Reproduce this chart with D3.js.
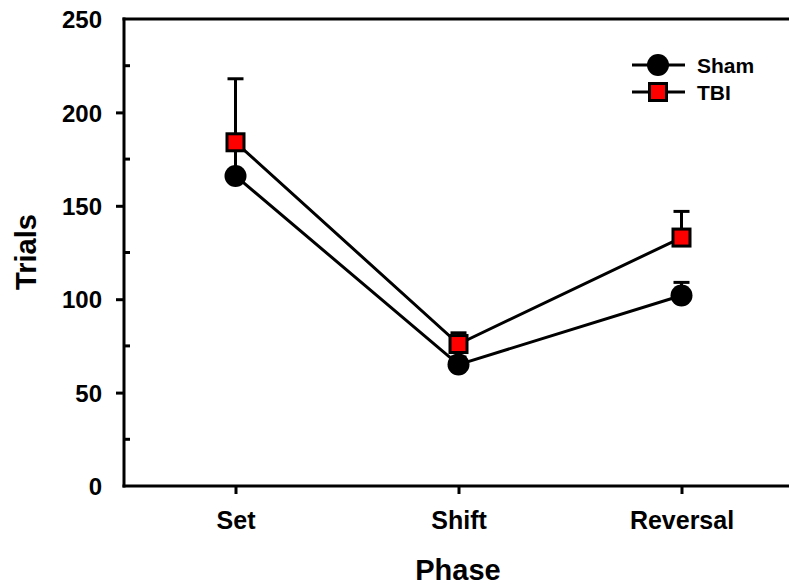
<!DOCTYPE html>
<html>
<head>
<meta charset="utf-8">
<script src="https://cdn.jsdelivr.net/npm/d3@7"></script>
<style>
  body { margin: 0; background: #fff; }
  text { font-family: Arial, "Liberation Sans", sans-serif; font-weight: bold; fill: #000; }
</style>
</head>
<body>
<svg id="chart" width="789" height="587"></svg>
<script>
// data
var phases = ['Set', 'Shift', 'Reversal'];
var shamMean = [166, 65, 102];
var shamErr = [18, 4, 7];
var tbiMean = [184, 76, 133];
var tbiErr = [34, 6, 14];
var yTicks = [0, 50, 100, 150, 200, 250];
var yMinor = [25, 75, 125, 175, 225];

var svg = d3.select('#chart'),
  plotLeft = 124, plotRight = 793, plotTop = 19, plotBottom = 486;

var x = d3.scalePoint().domain(phases).range([plotLeft, plotRight]).padding(0.5);
var y = d3.scaleLinear().domain([0, 250]).range([plotBottom, plotTop]);

var series = [
  { name: 'Sham', mean: shamMean, err: shamErr, shape: 'circle' },
  { name: 'TBI', mean: tbiMean, err: tbiErr, shape: 'square' }
];

// frame top
svg.append('line')
  .attr('x1', plotLeft - 1.5).attr('x2', 789).attr('y1', plotTop).attr('y2', plotTop)
  .attr('stroke', '#000').attr('stroke-width', 3);

// y axis
var yAxis = svg.append('g').attr('transform', 'translate(' + plotLeft + ',0)')
  .call(d3.axisLeft(y).tickValues(yTicks).tickSize(8).tickPadding(23));
yAxis.select('.domain').attr('stroke-width', 3).attr('d', 'M0,' + (plotBottom + 1.5) + 'V' + (plotTop - 1.5));
yAxis.selectAll('.tick line').attr('stroke-width', 3);
yAxis.selectAll('.tick text').attr('font-size', 24).attr('x', -22).attr('dy', '0.36em');
yAxis.selectAll('.tick').filter(function(d) { return d === 250 || d === 0; }).select('line').remove();

svg.append('g').selectAll('line').data(yMinor).enter().append('line')
  .attr('x1', plotLeft).attr('x2', plotLeft + 6)
  .attr('y1', function(d) { return y(d); }).attr('y2', function(d) { return y(d); })
  .attr('stroke', '#000').attr('stroke-width', 3);

// x axis
var xAxis = svg.append('g').attr('transform', 'translate(0,' + plotBottom + ')')
  .call(d3.axisBottom(x).tickSize(8));
xAxis.select('.domain').attr('stroke-width', 3).attr('d', 'M' + (plotLeft - 1.5) + ',0H789');
xAxis.selectAll('.tick line').attr('stroke-width', 3);
xAxis.selectAll('.tick text').attr('font-size', 25).attr('y', 43).attr('dy', 0);

svg.append('text').attr('x', 458).attr('y', 580)
  .attr('text-anchor', 'middle').attr('font-size', 29).text('Phase');
svg.append('text').attr('transform', 'translate(36,252) rotate(-90)')
  .attr('text-anchor', 'middle').attr('font-size', 29).text('Trials');

// error bars (upper only)
series.forEach(function(s) {
  var g = svg.append('g');
  phases.forEach(function(p, i) {
    var yTop = y(s.mean[i] + s.err[i]);
    g.append('line').attr('x1', x(p)).attr('x2', x(p))
      .attr('y1', y(s.mean[i])).attr('y2', yTop)
      .attr('stroke', '#000').attr('stroke-width', 3);
    g.append('line').attr('x1', x(p) - 8).attr('x2', x(p) + 8)
      .attr('y1', yTop).attr('y2', yTop)
      .attr('stroke', '#000').attr('stroke-width', 3);
  });
});

var line = d3.line()
  .x(function(d) { return x(d.p); })
  .y(function(d) { return y(d.v); });

series.forEach(function(s) {
  var pts = phases.map(function(p, i) { return { p: p, v: s.mean[i] }; });
  svg.append('path').datum(pts).attr('d', line)
    .attr('fill', 'none').attr('stroke', '#000').attr('stroke-width', 3);
});

function drawMarker(g, shape, cx, cy) {
  if (shape === 'circle') {
    g.append('circle').attr('cx', cx).attr('cy', cy).attr('r', 11).attr('fill', '#000');
  } else {
    g.append('rect').attr('x', cx - 8.5).attr('y', cy - 8.5).attr('width', 17).attr('height', 17)
      .attr('fill', '#ff0000').attr('stroke', '#000').attr('stroke-width', 3);
  }
}

series.forEach(function(s) {
  var g = svg.append('g');
  phases.forEach(function(p, i) { drawMarker(g, s.shape, x(p), y(s.mean[i])); });
});

// legend
var legend = svg.append('g');
series.forEach(function(s, i) {
  var ly = 65 + i * 27;
  legend.append('line').attr('x1', 632).attr('x2', 685).attr('y1', ly).attr('y2', ly)
    .attr('stroke', '#000').attr('stroke-width', 3);
  drawMarker(legend, s.shape, 658, ly);
  legend.append('text').attr('x', 697).attr('y', ly).attr('dy', '0.36em')
    .attr('font-size', 21).text(s.name);
});
</script>
</body>
</html>
